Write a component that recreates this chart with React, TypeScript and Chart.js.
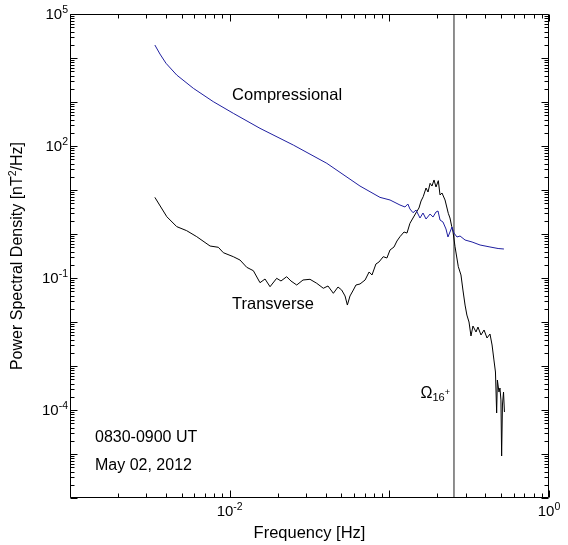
import React, { useEffect, useRef } from "react";
import { Chart, registerables } from "chart.js";

Chart.register(...registerables);

// ---- data ----
const compFreq = [0.0034, 0.00366, 0.00399, 0.00466, 0.00592, 0.00789, 0.01054, 0.01549, 0.02506, 0.0406, 0.0655, 0.0874, 0.101, 0.1166, 0.1253, 0.1306, 0.1346, 0.1407, 0.147, 0.1556, 0.1625, 0.1698, 0.18, 0.1877, 0.196, 0.2018, 0.2077, 0.2168, 0.2264, 0.2329, 0.2398, 0.2467, 0.254, 0.2653, 0.2772, 0.298, 0.3297, 0.37, 0.427, 0.48, 0.522];
const compPsd = [19700, 12300, 7600, 4100, 2050, 1020, 553, 252, 105, 40.4, 12.3, 6.8, 5.93, 4.56, 4.11, 4.81, 3.7, 3.05, 3.5, 2.31, 3.0, 2.19, 2.85, 2.43, 3.16, 3.33, 2.08, 1.87, 1.3, 0.855, 1.11, 1.44, 1.05, 0.855, 0.9, 0.73, 0.658, 0.562, 0.507, 0.468, 0.456];

const transFreq = [0.0034, 0.00404, 0.00466, 0.00538, 0.00622, 0.00754, 0.00849, 0.00913, 0.01054, 0.01161, 0.01279, 0.01407, 0.01549, 0.01665, 0.0179, 0.0197, 0.02096, 0.02275, 0.0242, 0.0263, 0.0288, 0.03185, 0.0351, 0.0386, 0.0413, 0.0446, 0.0477, 0.0503, 0.0528, 0.0546, 0.0567, 0.0595, 0.0618, 0.0655, 0.0705, 0.0747, 0.0779, 0.0824, 0.0861, 0.0916, 0.0966, 0.101, 0.107, 0.1116, 0.1166, 0.1236, 0.129, 0.1346, 0.1407, 0.1483, 0.1533, 0.158, 0.163, 0.1698, 0.1747, 0.18, 0.185, 0.1905, 0.196, 0.2027, 0.2077, 0.2137, 0.2233, 0.234, 0.2398, 0.246, 0.2506, 0.2579, 0.2704, 0.281, 0.289, 0.298, 0.306, 0.3155, 0.3246, 0.334, 0.349, 0.359, 0.375, 0.392, 0.409, 0.427, 0.44, 0.452, 0.462, 0.47, 0.475, 0.486, 0.493, 0.5, 0.505, 0.511, 0.519, 0.526];
const transPsd = [6.8, 2.47, 1.47, 1.19, 0.869, 0.533, 0.499, 0.376, 0.305, 0.256, 0.175, 0.1466, 0.0782, 0.0949, 0.0634, 0.0984, 0.0855, 0.107, 0.0855, 0.0693, 0.0901, 0.0934, 0.0758, 0.0584, 0.0658, 0.0449, 0.0624, 0.0533, 0.039, 0.0243, 0.039, 0.0533, 0.0693, 0.0731, 0.0901, 0.137, 0.117, 0.208, 0.231, 0.305, 0.285, 0.433, 0.507, 0.693, 0.869, 1.11, 1.05, 1.75, 2.31, 3.21, 3.9, 5.62, 7.05, 11.1, 9.0, 14.2, 12.3, 16.9, 11.7, 16.3, 7.7, 8.55, 5.93, 2.95, 2.31, 1.47, 1.11, 0.514, 0.181, 0.117, 0.0533, 0.0243, 0.0144, 0.01, 0.00481, 0.0081, 0.00593, 0.00769, 0.00507, 0.00658, 0.00433, 0.00533, 0.003, 0.00137, 7.3e-4, 8.55e-5, 4.8e-4, 2.56e-4, 3.16e-4, 1.69e-4, 9.0e-6, 1.3e-4, 2.56e-4, 9.0e-5];

const omegaFreq = 0.254;
const xMin = 1e-3;
const xMax = 1;
const yMin = 1e-6;
const yMax = 1e5;
const xLabelExps = [-2, 0];
const yLabelExps = [5, 2, -1, -4];

const compLabel = { text: "Compressional", f: 0.01035, p: 1110 };
const transLabel = { text: "Transverse", f: 0.01035, p: 0.0197 };
const omegaLabelP = 1.87e-4;
const infoLines = ["0830-0900 UT", "May 02, 2012"];
const xTitle = "Frequency [Hz]";

const FONT = "'Liberation Sans', Arial, Helvetica, sans-serif";

function drawPow(ctx: CanvasRenderingContext2D, exp: string, x: number, y: number, align: "center" | "right") {
  ctx.font = `15px ${FONT}`;
  const w1 = ctx.measureText("10").width;
  ctx.font = `10.5px ${FONT}`;
  const w2 = ctx.measureText(exp).width;
  const total = w1 + w2;
  const left = align === "center" ? x - total / 2 : x - total;
  ctx.textAlign = "left";
  ctx.textBaseline = "alphabetic";
  ctx.font = `15px ${FONT}`;
  ctx.fillText("10", left, y);
  ctx.font = `10.5px ${FONT}`;
  ctx.fillText(exp, left + w1, y - 6);
}

const framePlugin = {
  id: "frame",
  afterDraw(chart: any) {
    const ctx: CanvasRenderingContext2D = chart.ctx;
    const a = chart.chartArea;
    const xs = chart.scales.x;
    const ys = chart.scales.y;
    ctx.save();
    ctx.strokeStyle = "#000";
    ctx.fillStyle = "#000";
    ctx.lineWidth = 1;
    const L = Math.round(a.left) + 0.5;
    const R = Math.round(a.right) - 0.5;
    const T = Math.round(a.top) + 0.5;
    const B = Math.round(a.bottom) - 0.5;
    ctx.beginPath();
    ctx.rect(L, T, R - L, B - T);
    ctx.stroke();

    ctx.beginPath();
    // x ticks
    for (let e = -3; e <= 0; e++) {
      for (let m = 1; m <= 9; m++) {
        const v = m * Math.pow(10, e);
        if (v < xMin * 0.999 || v > xMax * 1.001) continue;
        const px = Math.round(xs.getPixelForValue(v)) + 0.5;
        const len = m === 1 ? 7 : 4;
        ctx.moveTo(px, B);
        ctx.lineTo(px, B - len);
        ctx.moveTo(px, T);
        ctx.lineTo(px, T + len);
      }
    }
    // y ticks
    for (let e = -6; e <= 5; e++) {
      for (let m = 1; m <= 9; m++) {
        const v = m * Math.pow(10, e);
        if (v < yMin * 0.999 || v > yMax * 1.001) continue;
        const py = Math.round(ys.getPixelForValue(v)) + 0.5;
        const len = m === 1 ? 7 : 4;
        ctx.moveTo(L, py);
        ctx.lineTo(L + len, py);
        ctx.moveTo(R, py);
        ctx.lineTo(R - len, py);
      }
    }
    ctx.stroke();

    // tick labels
    for (const e of xLabelExps) {
      const px = xs.getPixelForValue(Math.pow(10, e));
      drawPow(ctx, String(e), px, a.bottom + 18, "center");
    }
    for (const e of yLabelExps) {
      const py = ys.getPixelForValue(Math.pow(10, e));
      drawPow(ctx, String(e), a.left - 2, py + 5, "right");
    }

    // axis titles
    ctx.font = `16.5px ${FONT}`;
    ctx.textAlign = "center";
    ctx.textBaseline = "alphabetic";
    ctx.fillText(xTitle, (a.left + a.right) / 2, a.bottom + 40);

    ctx.save();
    ctx.translate(18, (a.top + a.bottom) / 2);
    ctx.rotate(-Math.PI / 2);
    ctx.textBaseline = "middle";
    const p1 = "Power Spectral Density [nT";
    const p2 = "2";
    const p3 = "/Hz]";
    ctx.font = `16px ${FONT}`;
    const w1 = ctx.measureText(p1).width;
    const w3 = ctx.measureText(p3).width;
    ctx.font = `10.5px ${FONT}`;
    const w2 = ctx.measureText(p2).width;
    const tot = w1 + w2 + w3;
    ctx.textAlign = "left";
    ctx.font = `16px ${FONT}`;
    ctx.fillText(p1, -tot / 2, 0);
    ctx.font = `10.5px ${FONT}`;
    ctx.fillText(p2, -tot / 2 + w1, -5);
    ctx.font = `16px ${FONT}`;
    ctx.fillText(p3, -tot / 2 + w1 + w2, 0);
    ctx.restore();

    // in-plot labels
    ctx.font = `16.5px ${FONT}`;
    ctx.textAlign = "left";
    ctx.textBaseline = "alphabetic";
    ctx.fillText(compLabel.text, xs.getPixelForValue(compLabel.f), ys.getPixelForValue(compLabel.p));
    ctx.fillText(transLabel.text, xs.getPixelForValue(transLabel.f), ys.getPixelForValue(transLabel.p));

    // Omega label, right of it the vertical line
    const lx = xs.getPixelForValue(omegaFreq);
    const ly = ys.getPixelForValue(omegaLabelP);
    ctx.font = `16px ${FONT}`;
    const wO = ctx.measureText("Ω").width;
    ctx.font = `11px ${FONT}`;
    const w16 = ctx.measureText("16").width;
    ctx.font = `9px ${FONT}`;
    const wp = ctx.measureText("+").width;
    let sx = lx - 4 - (wO + w16 + wp);
    ctx.font = `16px ${FONT}`;
    ctx.fillText("Ω", sx, ly);
    sx += wO;
    ctx.font = `11px ${FONT}`;
    ctx.fillText("16", sx, ly + 3);
    sx += w16;
    ctx.font = `9px ${FONT}`;
    ctx.fillText("+", sx, ly - 3);

    // info text
    ctx.font = `16px ${FONT}`;
    ctx.fillText(infoLines[0], a.left + 25, a.bottom - 56);
    ctx.fillText(infoLines[1], a.left + 25, a.bottom - 28);
    ctx.restore();
  },
};

export default function App() {
  const ref = useRef<HTMLCanvasElement | null>(null);
  useEffect(() => {
    if (!ref.current) return;
    const chart = new Chart(ref.current, {
      type: "line",
      data: {
        datasets: [
          {
            label: "Compressional",
            data: compFreq.map((f, i) => ({ x: f, y: compPsd[i] })),
            borderColor: "#1f1fa0",
            borderWidth: 1,
            pointRadius: 0,
            tension: 0,
            fill: false,
          },
          {
            label: "Transverse",
            data: transFreq.map((f, i) => ({ x: f, y: transPsd[i] })),
            borderColor: "#000000",
            borderWidth: 1,
            pointRadius: 0,
            tension: 0,
            fill: false,
          },
          {
            label: "Omega",
            data: [
              { x: omegaFreq, y: yMin },
              { x: omegaFreq, y: yMax },
            ],
            borderColor: "#444444",
            borderWidth: 1.2,
            pointRadius: 0,
            fill: false,
          },
        ],
      },
      options: {
        responsive: false,
        animation: false,
        layout: { padding: { left: 70, right: 19, top: 14, bottom: 47 } },
        plugins: { legend: { display: false }, tooltip: { enabled: false } },
        scales: {
          x: { type: "logarithmic", min: xMin, max: xMax, display: false },
          y: { type: "logarithmic", min: yMin, max: yMax, display: false },
        },
      },
      plugins: [framePlugin],
    });
    return () => chart.destroy();
  }, []);
  return (
    <div style={{ position: "absolute", left: 0, top: 0, width: 568, height: 545, background: "#fff" }}>
      <canvas ref={ref} width={568} height={545} style={{ display: "block" }} />
    </div>
  );
}
